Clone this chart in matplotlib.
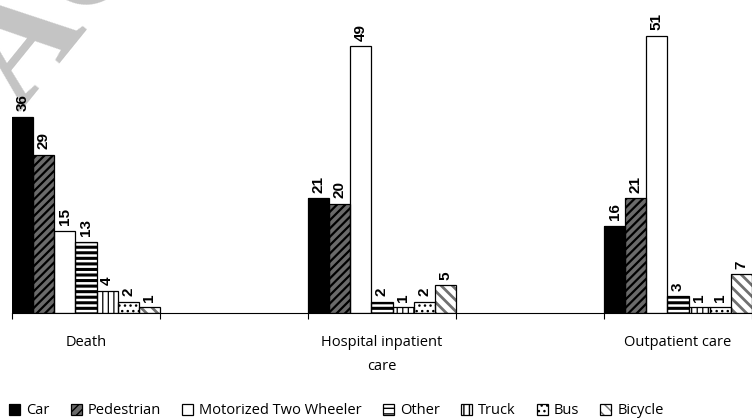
import matplotlib
matplotlib.use("Agg")
import matplotlib.pyplot as plt
from matplotlib.patches import Patch

# ---- data ----
categories = ["Death", "Hospital inpatient\ncare", "Outpatient care"]
series_names = ["Car", "Pedestrian", "Motorized Two Wheeler", "Other",
                "Truck", "Bus", "Bicycle"]
death = [36, 29, 15, 13, 4, 2, 1]
inpatient = [21, 20, 49, 2, 1, 2, 5]
outpatient = [16, 21, 51, 3, 1, 1, 7]
group_values = [death, inpatient, outpatient]

# ---- styles ----
faces = ["black", "#6a6a6a", "white", "white", "white", "white", "white"]
hatches = [None, "////", None, "---", "|||", "...", "\\\\\\"]
hatch_cols = ["black", "black", "black", "black", "black", "black", "#707070"]
hatch_lws = [1.0, 1.6, 1.0, 2.2, 0.9, 1.0, 2.0]

W, H = 752, 420
fig = plt.figure(figsize=(W / 100, H / 100), dpi=100)

px_per_cat = 149.0
left_px, base_px = 12.0, 312.5
ax = fig.add_axes([left_px / W, (H - base_px) / H, (W - left_px) / W, base_px / H])
ax.patch.set_visible(False)
ax.set_xlim(0, (W - left_px) / px_per_cat)
ax.set_ylim(0, base_px / 5.43)
for s in ["left", "right", "top"]:
    ax.spines[s].set_visible(False)
ax.spines["bottom"].set_linewidth(0.8)
ax.set_yticks([])

n = len(series_names)
bw = 1.0 / n
group_pos = [0, 2, 4]

label_font = "Liberation Sans"
cat_font = "Open Sans"

for i in range(n):
    xs = [g + (i + 0.5) * bw for g in group_pos]
    vals = [gv[i] for gv in group_values]
    bars = ax.bar(xs, vals, width=bw, color=faces[i], edgecolor=hatch_cols[i],
                  linewidth=0, hatch=hatches[i], zorder=2)
    for b in bars:
        if hasattr(b, "set_hatch_linewidth"):
            b.set_hatch_linewidth(hatch_lws[i])
    ax.bar(xs, vals, width=bw, fill=False, edgecolor="black", linewidth=0.9, zorder=3)
    for x, v in zip(xs, vals):
        ax.annotate(str(v), (x, v), xytext=(0, 4), textcoords="offset points",
                    rotation=90, ha="center", va="bottom", fontsize=11,
                    fontweight="bold", family=label_font, zorder=4)

# ticks at category boundaries
ax.set_xticks(range(0, 6))
ax.set_xticklabels([])
ax.tick_params(axis="x", direction="out", length=4.5, width=0.8, color="black")

for g, lab in zip(group_pos, categories):
    ax.annotate(lab, (g + 0.5, 0), xycoords=("data", "axes fraction"),
                xytext=(0, -22), textcoords="offset pixels", ha="center", va="top",
                fontsize=10.5, family=cat_font, linespacing=1.9, annotation_clip=False)

# legend
handles = []
for i in range(n):
    hp = Patch(facecolor=faces[i], edgecolor=hatch_cols[i], linewidth=0, hatch=hatches[i])
    if hasattr(hp, "set_hatch_linewidth"):
        hp.set_hatch_linewidth(hatch_lws[i])
    op = Patch(fill=False, edgecolor="black", linewidth=0.9)
    handles.append((hp, op))
fig.legend(handles, series_names, loc="center left", bbox_to_anchor=(9 / W, 1 - 411 / H),
           ncol=n, frameon=False, borderpad=0, borderaxespad=0,
           handlelength=0.75, handleheight=0.75, handletextpad=0.4, columnspacing=1.47,
           prop={"family": cat_font, "size": 10.5})

# watermark fragment
fig.text(20 / W, 1 - 112 / H, "ACCEPTED MANUSCRIPT", rotation=51, rotation_mode="anchor",
         ha="left", va="baseline", fontsize=108, family="Liberation Serif",
         fontweight="bold", color="#c4c4c4", zorder=-1)

fig.savefig("out.png", dpi=100)
